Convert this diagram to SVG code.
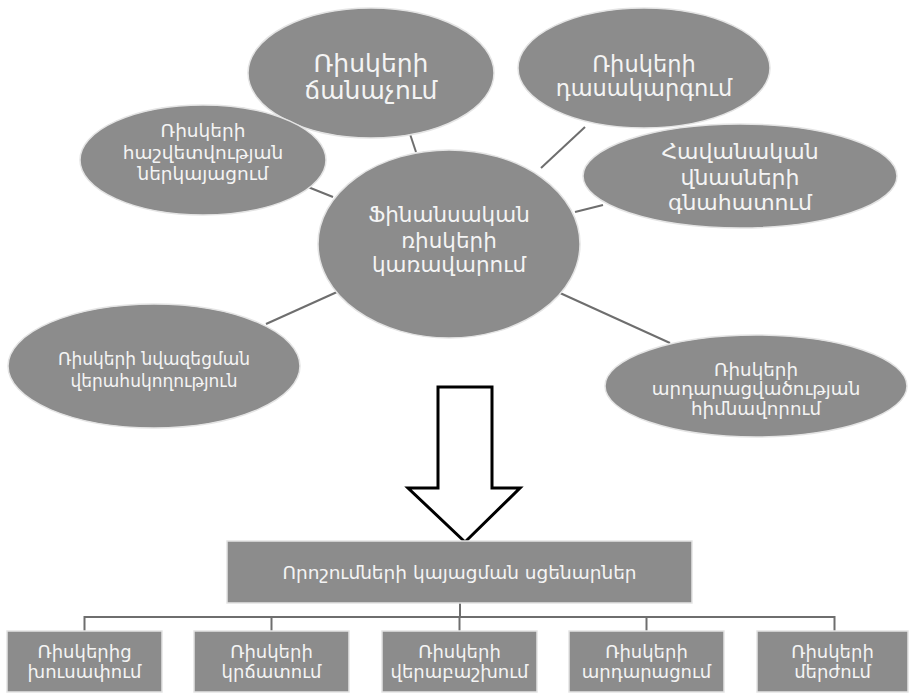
<svg xmlns="http://www.w3.org/2000/svg" width="910" height="694" viewBox="0 0 910 694">
<style>
.n{fill:#8c8c8c;stroke:#e4e4e4;stroke-width:1.5}
.t{font-family:"DejaVu Sans",sans-serif;fill:#f4f4f4;text-anchor:middle}
.c{stroke:#6e6e6e;stroke-width:2;fill:none}
</style>
<rect width="910" height="694" fill="#ffffff"/>
<g id="connectors">
<line class="c" x1="410" y1="134" x2="416" y2="152"/>
<line class="c" x1="541" y1="168" x2="585" y2="127"/>
<line class="c" x1="575" y1="212" x2="603" y2="205"/>
<line class="c" x1="308" y1="187" x2="333" y2="197"/>
<line class="c" x1="266" y1="324" x2="337" y2="292"/>
<line class="c" x1="560" y1="293" x2="670" y2="343"/>
<polyline class="c" points="460,603 460,617"/>
<polyline class="c" points="84.5,631 84.5,617 834.5,617 834.5,631"/>
<line class="c" x1="271.5" y1="617" x2="271.5" y2="631"/>
<line class="c" x1="459.5" y1="617" x2="459.5" y2="631"/>
<line class="c" x1="646.5" y1="617" x2="646.5" y2="631"/>
</g>
<g id="n-identify">
<ellipse class="n" cx="371" cy="73" rx="123" ry="65"/>
<text class="t" font-size="25" x="371" y="72">Ռիսկերի</text>
<text class="t" font-size="25" x="371" y="99">ճանաչում</text>
</g>
<g id="n-report">
<ellipse class="n" cx="203" cy="160" rx="123" ry="55"/>
<text class="t" font-size="18.5" x="203" y="137">Ռիսկերի</text>
<text class="t" font-size="18.5" x="203" y="159">հաշվետվության</text>
<text class="t" font-size="18.5" x="203" y="180">ներկայացում</text>
</g>
<g id="n-classify">
<ellipse class="n" cx="644" cy="68" rx="126" ry="60"/>
<text class="t" font-size="22.5" x="644" y="72">Ռիսկերի</text>
<text class="t" font-size="22.5" x="644" y="96">դասակարգում</text>
</g>
<g id="n-assess">
<ellipse class="n" cx="740" cy="176" rx="157" ry="52"/>
<text class="t" font-size="22" x="740" y="159">Հավանական</text>
<text class="t" font-size="22" x="740" y="185">վնասների</text>
<text class="t" font-size="22" x="740" y="210">գնահատում</text>
</g>
<g id="n-center">
<ellipse class="n" cx="449" cy="244" rx="131" ry="94"/>
<text class="t" font-size="21.5" x="449" y="222">Ֆինանսական</text>
<text class="t" font-size="21.5" x="449" y="248">ռիսկերի</text>
<text class="t" font-size="21.5" x="449" y="272">կառավարում</text>
</g>
<g id="n-control">
<ellipse class="n" cx="154" cy="366" rx="146" ry="62"/>
<text class="t" font-size="17" x="154" y="365">Ռիսկերի նվազեցման</text>
<text class="t" font-size="17" x="154" y="387">վերահսկողություն</text>
</g>
<g id="n-justify">
<ellipse class="n" cx="756" cy="386" rx="151" ry="51"/>
<text class="t" font-size="18.3" x="756" y="376">Ռիսկերի</text>
<text class="t" font-size="18.3" x="756" y="395">արդարացվածության</text>
<text class="t" font-size="18.3" x="756" y="415">հիմնավորում</text>
</g>
<g id="arrow">
<polygon points="438,387 492,387 492,488 520,488 465,542 408,488 438,488" fill="#ffffff" stroke="#000000" stroke-width="3" stroke-linejoin="miter"/>
</g>
<g id="n-scenarios">
<rect class="n" x="227" y="541" width="465" height="62"/>
<text class="t" font-size="18.5" x="459.5" y="579">Որոշումների կայացման սցենարներ</text>
</g>
<g id="n-avoid">
<rect class="n" x="7" y="631" width="155" height="61"/>
<text class="t" font-size="18" x="84.5" y="658">Ռիսկերից</text>
<text class="t" font-size="18" x="84.5" y="678">խուսափում</text>
</g>
<g id="n-reduce">
<rect class="n" x="194" y="631" width="155" height="61"/>
<text class="t" font-size="18" x="271.5" y="658">Ռիսկերի</text>
<text class="t" font-size="18" x="271.5" y="678">կրճատում</text>
</g>
<g id="n-transfer">
<rect class="n" x="382" y="631" width="155" height="61"/>
<text class="t" font-size="18" x="459.5" y="658">Ռիսկերի</text>
<text class="t" font-size="18" x="459.5" y="678">վերաբաշխում</text>
</g>
<g id="n-accept">
<rect class="n" x="569" y="631" width="155" height="61"/>
<text class="t" font-size="18" x="646.5" y="658">Ռիսկերի</text>
<text class="t" font-size="18" x="646.5" y="678">արդարացում</text>
</g>
<g id="n-reject">
<rect class="n" x="757" y="631" width="151" height="61"/>
<text class="t" font-size="18" x="832.5" y="658">Ռիսկերի</text>
<text class="t" font-size="18" x="832.5" y="678">մերժում</text>
</g>
</svg>
